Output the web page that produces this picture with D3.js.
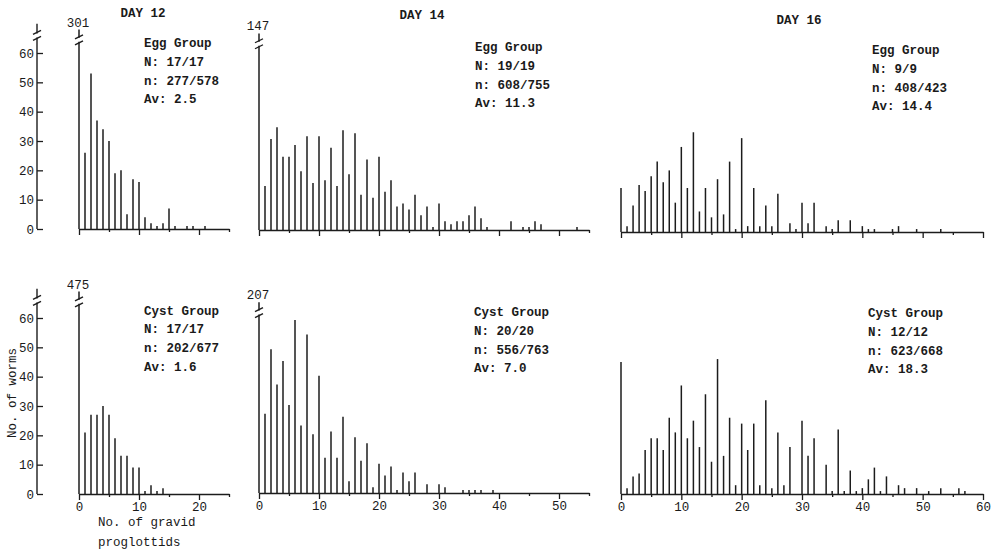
<!DOCTYPE html>
<html>
<head>
<meta charset="utf-8">
<title>Gravid proglottids per worm</title>
<script src="https://d3js.org/d3.v7.min.js"></script>
<style>
  body { margin: 0; background: #fff; }
  svg { display: block; }
  text { font-family: "Liberation Mono", "DejaVu Sans Mono", monospace; fill: #1a1a1a; }
</style>
</head>
<body>
<div id="chart"></div>
<script>
// no. of worms for each no. of gravid proglottids (array index = proglottids)
const egg12 = [301, 26, 53, 37, 34, 30, 19, 20, 5, 17, 16, 4, 2, 1, 2, 7, 1, 0, 1, 1, 0, 1];
const egg14 = [147, 15, 31, 35, 25, 25, 29, 20, 32, 16, 32, 17, 28, 15, 34, 19, 33, 12, 24, 11, 25, 13, 17, 8, 9, 7, 12, 5, 8, 1, 9, 3, 2, 3, 3, 5, 8, 4, 1, 0, 0, 0, 3, 0, 1, 1, 3, 2, 0, 0, 0, 0, 0, 1];
const egg16 = [15, 2, 9, 16, 14, 19, 24, 17, 21, 10, 29, 15, 34, 7, 15, 5, 18, 6, 24, 1, 32, 2, 15, 2, 9, 2, 13, 0, 3, 1, 10, 3, 10, 0, 2, 1, 4, 0, 4, 0, 2, 1, 1, 0, 0, 1, 2, 0, 0, 1, 0, 0, 0, 1];
const cyst12 = [475, 21, 27, 27, 30, 27, 19, 13, 13, 9, 9, 1, 3, 1, 2];
const cyst14 = [207, 27, 49, 37, 45, 30, 59, 23, 54, 20, 40, 12, 21, 12, 26, 4, 19, 11, 17, 2, 10, 6, 9, 1, 7, 4, 7, 0, 3, 0, 3, 2, 0, 0, 1, 1, 1, 1, 0, 1];
const cyst16 = [45, 2, 6, 7, 15, 19, 19, 15, 26, 21, 37, 19, 25, 16, 34, 11, 46, 13, 26, 3, 24, 15, 24, 3, 32, 2, 21, 3, 16, 0, 25, 13, 19, 0, 10, 1, 22, 1, 8, 1, 2, 5, 9, 1, 6, 0, 3, 2, 0, 2, 0, 1, 0, 2, 0, 0, 2, 1];

const dayTitles = ["DAY 12", "DAY 14", "DAY 16"];
const eggNotes = [
  ["Egg Group", "N: 17/17", "n: 277/578", "Av: 2.5"],
  ["Egg Group", "N: 19/19", "n: 608/755", "Av: 11.3"],
  ["Egg Group", "N: 9/9", "n: 408/423", "Av: 14.4"]
];
const cystNotes = [
  ["Cyst Group", "N: 17/17", "n: 202/677", "Av: 1.6"],
  ["Cyst Group", "N: 20/20", "n: 556/763", "Av: 7.0"],
  ["Cyst Group", "N: 12/12", "n: 623/668", "Av: 18.3"]
];
const xMaxes = [25, 55, 60];
const yTicks = [0, 10, 20, 30, 40, 50, 60];

const ink = "#1c1c1c";
const W = 996, H = 552;
const svg = d3.select("#chart").append("svg").attr("width", W).attr("height", H);

// layout of the six panels
const panels = [
  {data: egg12,  col: 0, row: 0, x0: 79,  x1: 229, base: 229, cut: 68, notes: eggNotes[0],  nx: 144, ny: 47},
  {data: egg14,  col: 1, row: 0, x0: 259, x1: 589, base: 230, cut: 67, notes: eggNotes[1],  nx: 475, ny: 51},
  {data: egg16,  col: 2, row: 0, x0: 621, x1: 983, base: 232, cut: 67, notes: eggNotes[2],  nx: 872, ny: 54},
  {data: cyst12, col: 0, row: 1, x0: 79,  x1: 229, base: 494, cut: 69, notes: cystNotes[0], nx: 144, ny: 314.5},
  {data: cyst14, col: 1, row: 1, x0: 259, x1: 589, base: 493, cut: 65, notes: cystNotes[1], nx: 474, ny: 316},
  {data: cyst16, col: 2, row: 1, x0: 621, x1: 983, base: 494, cut: 67, notes: cystNotes[2], nx: 868, ny: 317}
];
const lineGap = 18.8;

function breakMark(g, x, y) {
  g.append("line").attr("x1", x - 4).attr("y1", y + 5).attr("x2", x + 4).attr("y2", y + 1)
    .attr("stroke", ink).attr("stroke-width", 1.3);
  g.append("line").attr("x1", x - 4).attr("y1", y - 1).attr("x2", x + 4).attr("y2", y - 5)
    .attr("stroke", ink).attr("stroke-width", 1.3);
}

panels.forEach(function(p) {
  const x = d3.scaleLinear().domain([0, xMaxes[p.col]]).range([p.x0, p.x1]);
  const y = d3.scaleLinear().domain([0, 60]).range([p.base, p.base - 176]);
  const g = svg.append("g");

  // x axis: ticks every 5, longer on the tens
  const ax = g.append("g")
    .attr("transform", "translate(0," + p.base + ")")
    .call(d3.axisBottom(x)
      .tickValues(d3.range(0, xMaxes[p.col] + 1, 5))
      .tickSizeInner(3).tickSizeOuter(0).tickPadding(5.5)
      .tickFormat(d => (p.row === 1 && d % 10 === 0) ? d : ""));
  ax.select(".domain").attr("stroke", ink).attr("stroke-width", 1.4);
  ax.selectAll(".tick line").attr("stroke", ink).attr("stroke-width", 1.3)
    .attr("y2", d => d % 10 === 0 ? 6 : 3);
  ax.selectAll(".tick text").attr("font-size", 12.5).attr("font-family", null).attr("fill", ink);

  // bars
  const bars = p.data.map((v, i) => ({k: i, v: v})).filter(d => d.v > 0);
  g.selectAll(".bar").data(bars).enter().append("line")
    .attr("class", "bar")
    .attr("x1", d => x(d.k)).attr("x2", d => x(d.k))
    .attr("y1", y(0))
    .attr("y2", d => d.v > 60 ? y(p.cut - 3.5) + 2 : y(d.v))
    .attr("stroke", ink).attr("stroke-width", 1.5);

  // off-scale bar: broken and labelled with its count
  bars.filter(d => d.v > 60).forEach(function(d) {
    const yb = y(p.cut - 3.5);
    g.append("line").attr("x1", x(d.k)).attr("x2", x(d.k))
      .attr("y1", yb - 2).attr("y2", y(p.cut))
      .attr("stroke", ink).attr("stroke-width", 1.5);
    breakMark(g, x(d.k), yb);
    g.append("text").attr("x", x(d.k) - 1).attr("y", y(p.cut) - 3)
      .attr("text-anchor", "middle").attr("font-size", 12.5).text(d.v);
  });

  // group notes
  g.selectAll(".note").data(p.notes).enter().append("text")
    .attr("x", p.nx).attr("y", (d, i) => p.ny + i * lineGap)
    .attr("font-size", 12.5).attr("font-weight", "bold")
    .text(d => d);

  // left y axis on the first column
  if (p.col === 0) {
    const axX = 37;
    const ay = g.append("g")
      .attr("transform", "translate(" + axX + ",0)")
      .call(d3.axisLeft(y).tickValues(yTicks).tickSizeInner(-6).tickSizeOuter(0).tickPadding(3));
    ay.select(".domain").remove();
    ay.selectAll(".tick line").attr("stroke", ink).attr("stroke-width", 1.3);
    ay.selectAll(".tick text").attr("font-size", 12.5).attr("font-family", null).attr("fill", ink);
    const yb = y(66);
    g.append("line").attr("x1", axX).attr("x2", axX).attr("y1", y(0)).attr("y2", yb + 2)
      .attr("stroke", ink).attr("stroke-width", 1.4);
    g.append("line").attr("x1", axX).attr("x2", axX).attr("y1", yb - 2).attr("y2", y(70))
      .attr("stroke", ink).attr("stroke-width", 1.4);
    breakMark(g, axX, yb);
  }
});

// titles
const titleX = [143, 422, 799];
const titleY = [17, 19, 24];
svg.selectAll(".title").data(dayTitles).enter().append("text")
  .attr("x", (d, i) => titleX[i]).attr("y", (d, i) => titleY[i])
  .attr("text-anchor", "middle").attr("font-size", 12.5).attr("font-weight", "bold")
  .text(d => d);

// axis titles
svg.append("text")
  .attr("transform", "translate(16,393) rotate(-90)")
  .attr("text-anchor", "middle").attr("font-size", 12.5)
  .text("No. of worms");
svg.append("text").attr("x", 98).attr("y", 526).attr("font-size", 12.5).text("No. of gravid");
svg.append("text").attr("x", 98).attr("y", 546).attr("font-size", 12.5).text("proglottids");
</script>
</body>
</html>
